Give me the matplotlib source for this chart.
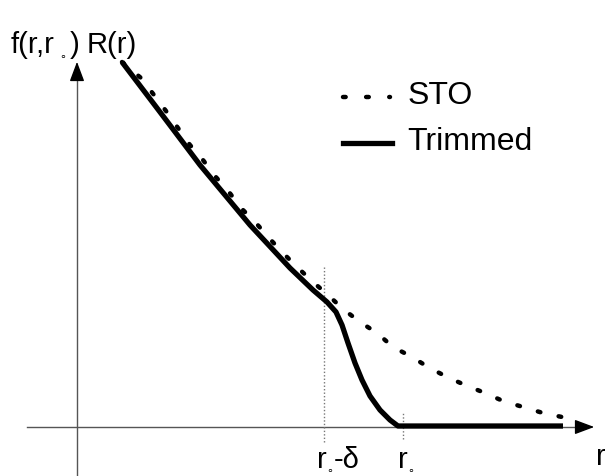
import matplotlib
matplotlib.use("Agg")
import matplotlib.pyplot as plt

# coordinates: r to the right of the vertical axis, f above the horizontal axis
sto_r = [45, 64, 77, 89, 101, 113, 126, 138, 152, 164, 179, 192, 206, 220, 236, 251,
         266, 283, 300, 316, 335, 351, 370, 388, 408, 426, 446, 466, 485]
sto_f = [365, 349, 332, 316, 299, 282, 267, 251, 235, 219, 204, 189, 174, 160, 145, 132,
         118, 105, 94, 80, 70, 60, 50, 42, 34, 26, 20, 14, 10]

trim_r = [45, 83, 123, 173, 213, 236, 250, 259, 265, 271, 278, 285, 293, 303, 313, 321, 486]
trim_f = [365, 315, 262, 202, 159, 137, 125, 115, 102, 84, 64, 47, 31, 17, 7, 1, 1]

r_cut = 247      # r0 - delta
r_zero = 326     # r0

plt.rcParams["font.family"] = ["Liberation Sans", "DejaVu Sans"]

fig = plt.figure(figsize=(6.05, 4.76), dpi=100)
ax = fig.add_axes([0, 0, 1, 1])
ax.set_xlim(-77, 528)
ax.set_ylim(-49, 427)
ax.axis("off")

# axes with arrows
ax.plot([-50, 505], [0, 0], color="#555555", lw=1.0)
ax.plot([0, 0], [-49, 350], color="#555555", lw=1.0)
ax.annotate("", xy=(520, 0), xytext=(500, 0),
            arrowprops=dict(arrowstyle="-|>,head_length=1.2,head_width=0.45",
                            color="black", lw=1))
ax.annotate("", xy=(0, 368), xytext=(0, 345),
            arrowprops=dict(arrowstyle="-|>,head_length=1.2,head_width=0.45",
                            color="black", lw=1))

# guide lines
ax.plot([r_cut, r_cut], [-15, 160], color="#777777", lw=1, ls=(0, (1, 1.5)))
ax.plot([r_zero, r_zero], [-12, 15], color="#777777", lw=1, ls=(0, (1, 1.5)))

ax.plot(sto_r, sto_f, color="black", lw=3.2, ls=(0, (0.6, 4.2)),
        dash_capstyle="round", solid_capstyle="round")
ax.plot(trim_r, trim_f, color="black", lw=3.8, solid_capstyle="butt")

# legend
ax.plot([266, 313], [330, 330], color="black", lw=3.2, ls=(0, (0.6, 4.6)),
        dash_capstyle="round")
ax.plot([266, 315], [284, 284], color="black", lw=3.8)
ax.text(331, 331, "STO", fontsize=23, va="center", ha="left")
ax.text(330, 285, "Trimmed", fontsize=23, va="center", ha="left")

# labels (small circle subscripts drawn as separate texts)
ax.text(-66, 382, "f(r,r", fontsize=21, va="center", ha="left")
ax.text(-14, 370, "∘", fontsize=8, va="center", ha="center")
ax.text(-7, 382, ")", fontsize=21, va="center", ha="left")
ax.text(10, 382, "R(r)", fontsize=21, va="center", ha="left")

ax.text(240, -33, "r", fontsize=21, va="center", ha="left")
ax.text(253, -44, "∘", fontsize=8, va="center", ha="center")
ax.text(257, -33, "-δ", fontsize=21, va="center", ha="left")
ax.text(321, -33, "r", fontsize=21, va="center", ha="left")
ax.text(334, -44, "∘", fontsize=8, va="center", ha="center")
ax.text(519, -30, "r", fontsize=21, va="center", ha="left")

fig.savefig("out.png", dpi=100)
